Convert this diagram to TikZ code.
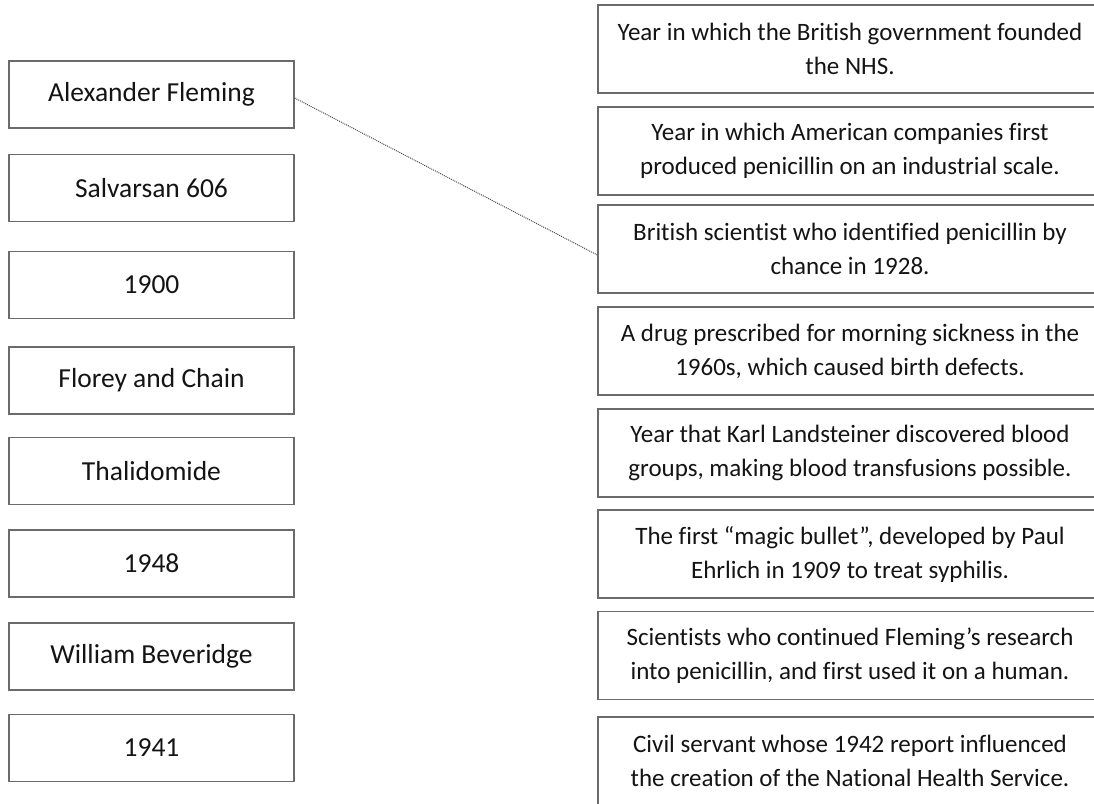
\documentclass[tikz,border=0pt]{standalone}
\usepackage{fontspec}
\setmainfont{Carlito}[Ligatures=NoCommon]
\usetikzlibrary{calc}
\begin{document}
\begin{tikzpicture}[x=1pt,y=-1pt,
  box/.style={draw=black!58, line width=1.3pt, rectangle, inner sep=0pt, align=center,
    text=black!92},
  lbox/.style={box, minimum width=285, minimum height=67, font=\fontsize{27.5}{34}\selectfont},
  rbox/.style={box, minimum width=504, minimum height=88, font=\fontsize{25}{34}\selectfont},
  link/.style={draw=black!70, line width=1pt, densely dotted}]
\useasboundingbox (0,0) rectangle (1094,803);
\clip (0,0) rectangle (1094,803);
\fill[white] (0,0) rectangle (1094,803);
% left column
\node[lbox] (l1) at (151.5,94.5) {Alexander Fleming};
\node[lbox] (l2) at (151.5,188) {Salvarsan 606};
\node[lbox] (l3) at (151.5,285) {1900};
\node[lbox] (l4) at (151.5,380.5) {Florey and Chain};
\node[lbox] (l5) at (151.5,471) {Thalidomide};
\node[lbox] (l6) at (151.5,563.5) {1948};
\node[lbox] (l7) at (151.5,656.5) {William Beveridge};
\node[lbox] (l8) at (151.5,748) {1941};
% right column
\node[rbox] (r1) at (850,49) {Year in which the British government founded\\the NHS.};
\node[rbox] (r2) at (850,151) {Year in which American companies first\\produced penicillin on an industrial scale.};
\node[rbox] (r3) at (850,249) {British scientist who identified penicillin by\\chance in 1928.};
\node[rbox] (r4) at (850,351) {A drug prescribed for morning sickness in the\\1960s, which caused birth defects.};
\node[rbox] (r5) at (850,453) {Year that Karl Landsteiner discovered blood\\groups, making blood transfusions possible.};
\node[rbox] (r6) at (850,554) {The first “magic bullet”, developed by Paul\\Ehrlich in 1909 to treat syphilis.};
\node[rbox] (r7) at (850,655.5) {Scientists who continued Fleming’s research\\into penicillin, and first used it on a human.};
\node[rbox] (r8) at (850,761) {Civil servant whose 1942 report influenced\\the creation of the National Health Service.};
% connector
\draw[link] ($(l1.east)+(0,3.5)$) -- ($(r3.west)+(0,6)$);
\end{tikzpicture}
\end{document}
